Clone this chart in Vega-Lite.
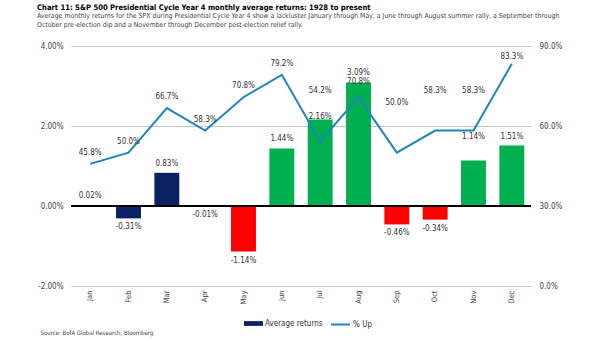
{
  "$schema": "https://vega.github.io/schema/vega-lite/v6.json",
  "width": 460,
  "height": 240,
  "autosize": {"type": "none"},
  "padding": {"left": 71, "top": 46, "right": 74, "bottom": 55},
  "background": "white",
  "title": {
    "text": "Chart 11: S&P 500 Presidential Cycle Year 4 monthly average returns: 1928 to present",
    "subtitle": ["Average monthly returns for the SPX during Presidential Cycle Year 4 show a lackluster January through May, a June through August summer rally, a September through", "October pre-election dip and a November through December post-election relief rally."],
    "anchor": "start",
    "frame": "group",
    "dx": -34,
    "offset": 14,
    "font": "DejaVu Sans Condensed, Roboto",
    "fontSize": 7.6,
    "fontWeight": "bold",
    "color": "#000000",
    "subtitleFont": "DejaVu Sans Condensed, Roboto",
    "subtitleFontSize": 6.9,
    "subtitleColor": "#444444",
    "subtitlePadding": 2,
    "subtitleLineHeight": 9
  },
  "config": {
    "view": {"stroke": null},
    "font": "DejaVu Sans Condensed, Roboto",
    "locale": {"number": {"decimal": ".", "thousands": ",", "grouping": [3], "currency": ["$", ""], "minus": "-"}},
    "axis": {"labelFont": "DejaVu Sans Condensed, Roboto", "labelColor": "#444444", "labelFontSize": 8, "ticks": false, "domain": false},
    "legend": {"labelFont": "DejaVu Sans Condensed, Roboto", "labelFontSize": 8, "labelColor": "#333333"}
  },
  "data": {"values": [
    {"month": "Jan", "ret": 0.0002, "up": 0.458},
    {"month": "Feb", "ret": -0.0031, "up": 0.500},
    {"month": "Mar", "ret": 0.0083, "up": 0.667},
    {"month": "Apr", "ret": -0.0001, "up": 0.583},
    {"month": "May", "ret": -0.0114, "up": 0.708},
    {"month": "Jun", "ret": 0.0144, "up": 0.792},
    {"month": "Jul", "ret": 0.0216, "up": 0.542},
    {"month": "Aug", "ret": 0.0309, "up": 0.708},
    {"month": "Sep", "ret": -0.0046, "up": 0.500},
    {"month": "Oct", "ret": -0.0034, "up": 0.583},
    {"month": "Nov", "ret": 0.0114, "up": 0.583},
    {"month": "Dec", "ret": 0.0151, "up": 0.833}
  ]},
  "encoding": {
    "x": {
      "field": "month", "type": "nominal", "sort": null,
      "scale": {"paddingInner": 0.35, "paddingOuter": 0.175},
      "axis": {
        "title": "Source: BofA Global Research, Bloomberg",
        "titleFont": "DejaVu Sans Condensed, Roboto", "titleFontSize": 6, "titleFontWeight": "normal", "titleColor": "#444444",
        "titleAnchor": "start", "titleAlign": "left", "titleBaseline": "middle",
        "titleX": -31, "titleY": 46,
        "labelAngle": -90, "labelAlign": "right", "labelBaseline": "middle", "labelPadding": 4, "labelFontSize": 7.5
      }
    }
  },
  "layer": [
    {
      "encoding": {
        "y": {"type": "quantitative",
          "scale": {"domain": [-0.02, 0.04], "nice": false, "zero": false},
          "axis": {"format": ".2%", "values": [-0.02, 0, 0.02, 0.04], "grid": true, "gridColor": "#c4c4c4", "gridWidth": 1, "labelPadding": 8, "title": null}}
      },
      "layer": [
        {
          "transform": [{"filter": {"field": "month", "oneOf": ["Jan", "Feb", "Mar", "Apr"]}}],
          "mark": {"type": "bar"},
          "encoding": {
            "y": {"field": "ret", "type": "quantitative"},
            "fill": {"datum": "Average returns", "type": "nominal",
              "scale": {"range": ["#0c2164"]},
              "legend": {"orient": "none", "legendX": 173, "legendY": 268, "title": null,
                "symbolType": "M-1,-0.25H1V0.25H-1Z", "symbolSize": 361, "symbolStrokeWidth": 0, "labelOffset": 2}}
          }
        },
        {
          "transform": [{"filter": {"not": {"field": "month", "oneOf": ["Jan", "Feb", "Mar", "Apr"]}}}],
          "mark": {"type": "bar"},
          "encoding": {
            "y": {"field": "ret", "type": "quantitative"},
            "fill": {"condition": {"test": "datum.ret < 0", "value": "#ff0000"}, "value": "#00b050"}
          }
        },
        {
          "mark": {"type": "rule", "color": "#000000", "strokeWidth": 1},
          "encoding": {"y": {"datum": 0, "type": "quantitative"}, "x": {"value": 0}, "x2": {"value": 460}}
        },
        {
          "transform": [{"filter": {"field": "month", "oneOf": ["Jan", "Mar", "Jun", "Aug", "Dec"]}}],
          "mark": {"type": "text", "dy": -9, "fontSize": 8, "color": "#333333", "baseline": "middle"},
          "encoding": {"y": {"field": "ret", "type": "quantitative"}, "text": {"field": "ret", "type": "quantitative", "format": ".2%"}}
        },
        {
          "transform": [{"filter": {"field": "month", "oneOf": ["Jul"]}}],
          "mark": {"type": "text", "dy": -3, "fontSize": 8, "color": "#333333", "baseline": "middle"},
          "encoding": {"y": {"field": "ret", "type": "quantitative"}, "text": {"field": "ret", "type": "quantitative", "format": ".2%"}}
        },
        {
          "transform": [{"filter": {"field": "month", "oneOf": ["Nov"]}}],
          "mark": {"type": "text", "dy": -23, "fontSize": 8, "color": "#333333", "baseline": "middle"},
          "encoding": {"y": {"field": "ret", "type": "quantitative"}, "text": {"field": "ret", "type": "quantitative", "format": ".2%"}}
        },
        {
          "transform": [{"filter": {"field": "month", "oneOf": ["Feb", "Apr", "May", "Sep", "Oct"]}}],
          "mark": {"type": "text", "dy": 9, "fontSize": 8, "color": "#333333", "baseline": "middle"},
          "encoding": {"y": {"field": "ret", "type": "quantitative"}, "text": {"field": "ret", "type": "quantitative", "format": ".2%"}}
        }
      ]
    },
    {
      "encoding": {
        "y": {"type": "quantitative",
          "scale": {"domain": [0, 0.9], "nice": false, "zero": false},
          "axis": {"orient": "right", "format": ".1%", "values": [0, 0.3, 0.6, 0.9], "grid": false, "labelPadding": 8, "title": null}}
      },
      "layer": [
        {
          "mark": {"type": "line", "strokeWidth": 2},
          "encoding": {
            "y": {"field": "up", "type": "quantitative"},
            "stroke": {"datum": "% Up", "type": "nominal",
              "scale": {"range": ["#1f86b8"]},
              "legend": {"orient": "none", "legendX": 259, "legendY": 268, "title": null,
                "symbolType": "stroke", "symbolSize": 361, "symbolStrokeWidth": 2, "labelOffset": 2}}
          }
        },
        {
          "transform": [{"filter": {"field": "month", "oneOf": ["Jan", "Feb", "Mar", "Apr", "May", "Jun"]}}],
          "mark": {"type": "text", "dy": -11, "fontSize": 8, "color": "#333333", "baseline": "middle"},
          "encoding": {"y": {"field": "up", "type": "quantitative"}, "text": {"field": "up", "type": "quantitative", "format": ".1%"}}
        },
        {
          "transform": [{"filter": {"field": "month", "oneOf": ["Dec"]}}],
          "mark": {"type": "text", "dy": -7, "fontSize": 8, "color": "#333333", "baseline": "middle"},
          "encoding": {"y": {"field": "up", "type": "quantitative"}, "text": {"field": "up", "type": "quantitative", "format": ".1%"}}
        },
        {
          "transform": [{"filter": {"field": "month", "oneOf": ["Aug"]}}],
          "mark": {"type": "text", "dy": -15, "fontSize": 8, "color": "#333333", "baseline": "middle"},
          "encoding": {"y": {"field": "up", "type": "quantitative"}, "text": {"field": "up", "type": "quantitative", "format": ".1%"}}
        },
        {
          "transform": [{"filter": {"field": "month", "oneOf": ["Jul", "Sep"]}}],
          "mark": {"type": "text", "dy": -50, "fontSize": 8, "color": "#333333", "baseline": "middle"},
          "encoding": {"y": {"field": "up", "type": "quantitative"}, "text": {"field": "up", "type": "quantitative", "format": ".1%"}}
        },
        {
          "transform": [{"filter": {"field": "month", "oneOf": ["Oct", "Nov"]}}],
          "mark": {"type": "text", "dy": -40, "fontSize": 8, "color": "#333333", "baseline": "middle"},
          "encoding": {"y": {"field": "up", "type": "quantitative"}, "text": {"field": "up", "type": "quantitative", "format": ".1%"}}
        }
      ]
    }
  ],
  "resolve": {"scale": {"y": "independent"}}
}
